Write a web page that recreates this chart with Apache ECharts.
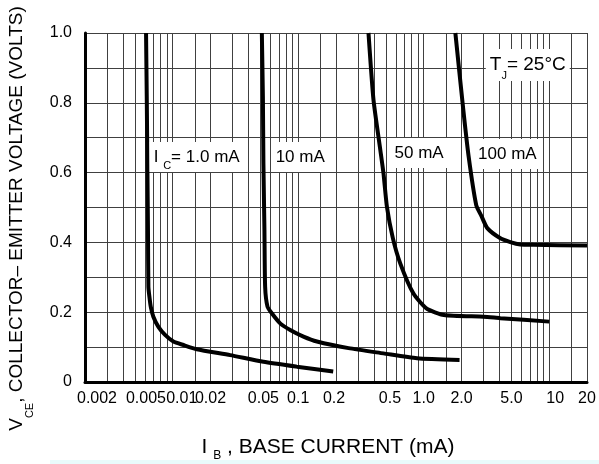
<!DOCTYPE html>
<html>
<head>
<meta charset="utf-8">
<script src="https://cdn.jsdelivr.net/npm/echarts@6/dist/echarts.min.js"></script>
<style>
html, body { margin: 0; padding: 0; background: #fff; }
#chart { width: 599px; height: 464px; }
</style>
</head>
<body>
<div id="chart"></div>
<script>
// base current I_B (mA) and V_CE (V)
var ic1Ib  = [0.00613, 0.00621, 0.00628, 0.00635, 0.0064, 0.00652, 0.00668, 0.00701, 0.00769, 0.00869, 0.01012, 0.01216, 0.01556, 0.0287, 0.0528, 0.0975, 0.19];
var ic1Vce = [1.0, 0.818, 0.627, 0.435, 0.273, 0.244, 0.216, 0.187, 0.158, 0.135, 0.116, 0.106, 0.094, 0.077, 0.058, 0.044, 0.03];

var ic10Ib  = [0.0513, 0.0523, 0.0528, 0.0538, 0.0545, 0.0569, 0.0616, 0.0718, 0.0863, 0.1101, 0.141, 0.252, 0.478, 0.883, 1.93];
var ic10Vce = [1.0, 0.818, 0.627, 0.436, 0.273, 0.216, 0.197, 0.168, 0.149, 0.13, 0.116, 0.097, 0.082, 0.068, 0.063];

var ic50Ib  = [0.363, 0.398, 0.451, 0.478, 0.509, 0.567, 0.65, 0.826, 1.05, 1.45, 3.0, 4.08, 10];
var ic50Vce = [1.0, 0.808, 0.665, 0.598, 0.502, 0.413, 0.34, 0.254, 0.211, 0.192, 0.187, 0.183, 0.173];

var ic100Ib  = [1.787, 2.06, 2.28, 2.62, 2.88, 3.21, 4.08, 4.9, 5.89, 7.48, 20];
var ic100Vce = [1.0, 0.785, 0.646, 0.507, 0.476, 0.441, 0.412, 0.401, 0.394, 0.393, 0.391];

var ibTicks = [0.002, 0.005, 0.01, 0.02, 0.05, 0.1, 0.2, 0.5, 1, 2, 5, 10, 20];
var ibTickLabels = ['0.002', '0.005', '0.01', '0.02', '0.05', '0.1', '0.2', '0.5', '1.0', '2.0', '5.0', '10', '20'];
var ibGridLines = [
  0.002, 0.003, 0.004, 0.005, 0.006, 0.007, 0.008, 0.009,
  0.01, 0.015, 0.02, 0.03, 0.04, 0.05, 0.06, 0.07, 0.08, 0.09,
  0.1, 0.15, 0.2, 0.3, 0.4, 0.5, 0.6, 0.7, 0.8, 0.9,
  1, 1.5, 2, 3, 4, 5, 6, 7, 8, 9,
  10, 15, 20
];
var vceTickLabels = ['0', '0.2', '0.4', '0.6', '0.8', '1.0'];

function pairs(xs, ys) {
  return xs.map(function (x, i) { return [x, ys[i]]; });
}

var font = '"Liberation Sans", Arial, sans-serif';
var chart = echarts.init(document.getElementById('chart'));

function curve(name, xs, ys) {
  return {
    name: name,
    type: 'line',
    data: pairs(xs, ys),
    showSymbol: false,
    smooth: 0.2,
    lineStyle: { color: '#000', width: 4 },
    z: 5
  };
}

// x tick labels in the original sit a bit off their gridline, nudge them (px, + = right)
var labelNudge = [12, 11, 9, 0, 3, 0, -2, 4, 0, 0, 0, 6, 0];
var tickRich = {};
labelNudge.forEach(function (d, i) {
  tickRich['t' + i] = {
    fontFamily: font, fontSize: 16, color: '#000',
    padding: d >= 0 ? [0, 0, 0, 2 * d] : [0, -2 * d, 0, 0]
  };
});
tickRich.y = { fontFamily: font, fontSize: 16, color: '#000' };

var gridLine = { color: '#404040', width: 1 };

var option = {
  animation: false,
  backgroundColor: '#fff',
  grid: { left: 85, right: 12, top: 33, bottom: 82, outerBoundsMode: 'none', containLabel: false },
  xAxis: {
    type: 'log',
    min: 0.002,
    max: 20,
    name: '{n|I }{s|B}{n| , BASE CURRENT (mA)}',
    nameLocation: 'middle',
    nameGap: 50,
    nameTextStyle: {
      padding: [0, 16, 0, 0],
      rich: {
        n: { fontFamily: font, fontSize: 21, color: '#000', lineHeight: 30 },
        s: { fontFamily: font, fontSize: 12, color: '#000', lineHeight: 12, verticalAlign: 'bottom' }
      }
    },
    axisLine: { show: true, lineStyle: { color: '#000', width: 3 } },
    axisTick: { show: false, customValues: ibGridLines },
    axisLabel: {
      customValues: ibTicks,
      margin: 9,
      rich: tickRich,
      formatter: function (v) {
        for (var i = 0; i < ibTicks.length; i++) {
          if (Math.abs(ibTicks[i] - v) / ibTicks[i] < 1e-6) return '{t' + i + '|' + ibTickLabels[i] + '}';
        }
        return '';
      }
    },
    splitLine: { show: true, lineStyle: gridLine },
    minorTick: { show: false }
  },
  yAxis: {
    type: 'value',
    min: 0,
    max: 1,
    interval: 0.2,
    name: '{n|V}{s|CE}{n|, COLLECTOR\u2013 EMITTER VOLTAGE (VOLTS)}',
    nameLocation: 'middle',
    nameGap: 50,
    nameTextStyle: {
      padding: [0, 22, 0, 0],
      rich: {
        n: { fontFamily: font, fontSize: 19, color: '#000', lineHeight: 36 },
        s: { fontFamily: font, fontSize: 11, color: '#000', lineHeight: 11, verticalAlign: 'bottom' }
      }
    },
    axisLine: { show: true, lineStyle: { color: '#000', width: 3 } },
    axisTick: { show: false },
    axisLabel: {
      margin: 13,
      rich: tickRich,
      formatter: function (v) { return '{y|' + vceTickLabels[Math.round(v / 0.2)] + '}'; }
    },
    splitLine: { show: true, lineStyle: gridLine },
    minorTick: { show: false, splitNumber: 2 },
    minorSplitLine: { show: true, lineStyle: gridLine }
  },
  series: [
    curve('IC = 1.0 mA', ic1Ib, ic1Vce),
    curve('IC = 10 mA', ic10Ib, ic10Vce),
    curve('IC = 50 mA', ic50Ib, ic50Vce),
    curve('IC = 100 mA', ic100Ib, ic100Vce)
  ]
};
chart.setOption(option);

// curve labels, anchored at data coordinates (left edge, vertical middle)
var noteRich = {
  n: { fontFamily: font, fontSize: 17, color: '#000', lineHeight: 30 },
  b: { fontFamily: font, fontSize: 19, color: '#000', lineHeight: 32 },
  s: { fontFamily: font, fontSize: 11, color: '#000', lineHeight: 11, verticalAlign: 'bottom' }
};
var notes = [
  { at: [0.00693, 0.645], text: '{n|I }{s|C}{n|= 1.0 mA}' },
  { at: [0.0649, 0.645], text: '{n|10 mA}' },
  { at: [0.575, 0.656], text: '{n|50 mA}' },
  { at: [2.66, 0.653], text: '{n|100 mA}' },
  { at: [3.3, 0.908], text: '{b|T}{s|J}{b|= 25\u00b0C}' }
];
chart.setOption({
  graphic: notes.map(function (n) {
    var p = chart.convertToPixel({ gridIndex: 0 }, n.at);
    return {
      type: 'text',
      x: p[0] - 3,
      y: p[1],
      z: 100,
      style: {
        text: n.text,
        rich: noteRich,
        align: 'left',
        verticalAlign: 'middle',
        backgroundColor: '#fff',
        padding: [0, 4]
      }
    };
  }).concat([{
    type: 'rect',
    shape: { x: 50, y: 460, width: 549, height: 4 },
    style: { fill: '#e9fbfb' },
    z: 100
  }])
});
</script>
</body>
</html>
